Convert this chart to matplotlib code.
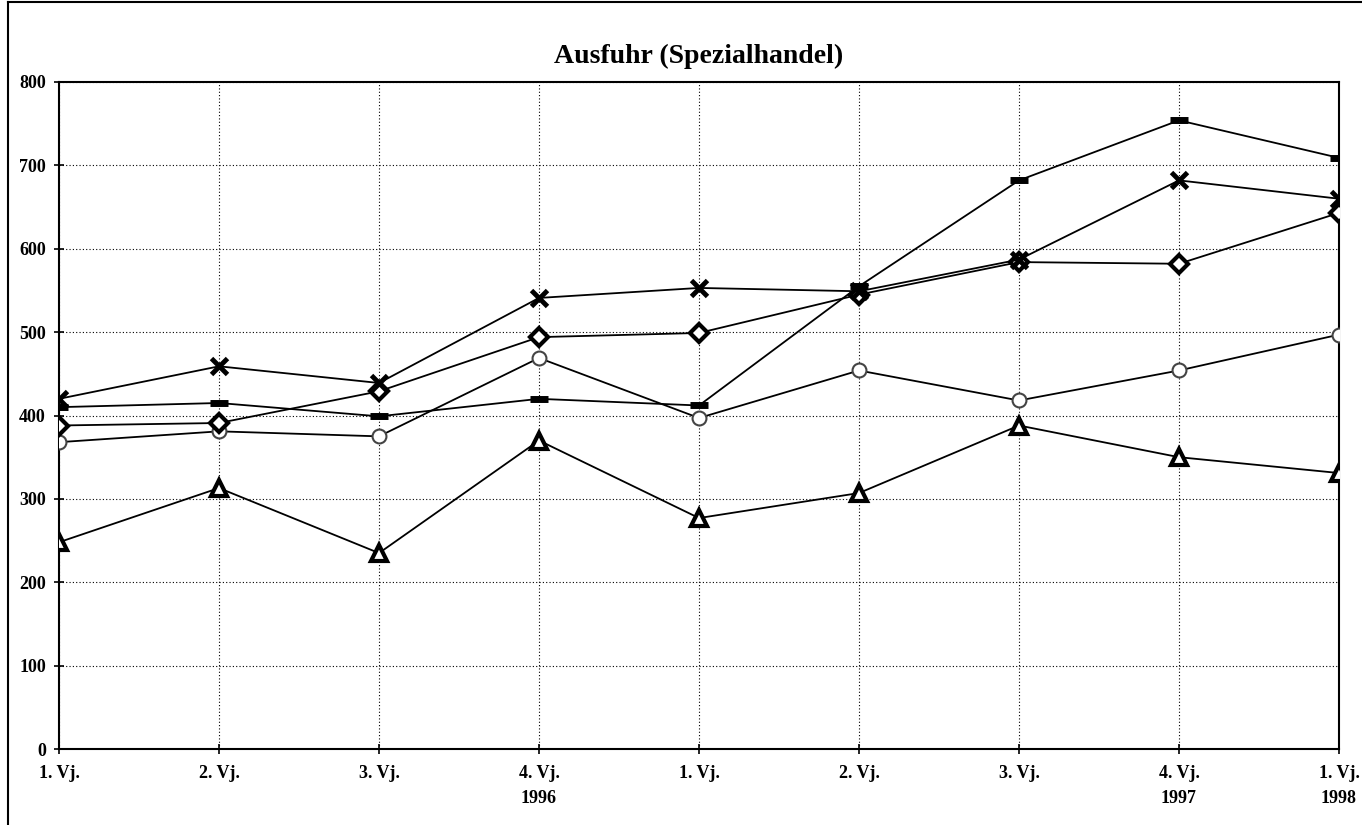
import matplotlib
matplotlib.use("Agg")
import matplotlib.pyplot as plt
from matplotlib.lines import Line2D

# quarters
quarters = ["1. Vj.", "2. Vj.", "3. Vj.", "4. Vj.\n1996", "1. Vj.", "2. Vj.",
            "3. Vj.", "4. Vj.\n1997", "1. Vj.\n1998"]

# series
s_cross = [420, 459, 439, 541, 553, 549, 587, 682, 660]
s_dash = [410, 415, 399, 420, 412, 555, 682, 754, 709]
s_diamond = [388, 391, 429, 494, 499, 545, 584, 582, 643]
s_circle = [368, 381, 375, 469, 397, 454, 418, 454, 497]
s_triangle = [248, 313, 235, 370, 277, 307, 388, 350, 331]

plt.rcParams['font.family'] = ['Liberation Serif', 'DejaVu Serif']

fig = plt.figure(figsize=(13.62, 8.25), dpi=100)
ax = fig.add_axes([59 / 1362, 1 - 749 / 825, (1339 - 59) / 1362, (749 - 82) / 825])

x = list(range(len(quarters)))

ax.plot(x, s_triangle, color='black', lw=1.3, marker='^', ms=11,
        mfc='white', mec='black', mew=3, zorder=3)
ax.plot(x, s_circle, color='black', lw=1.3, marker='o', ms=10,
        mfc='white', mec='#444444', mew=1.5, zorder=3)
ax.plot(x, s_dash, color='black', lw=1.3, marker='_', ms=13,
        mec='black', mew=5, zorder=4)
ax.plot(x, s_diamond, color='black', lw=1.3, marker='D', ms=9,
        mfc='white', mec='black', mew=3, zorder=4)
ax.plot(x, s_cross, color='black', lw=1.3, marker='x', ms=12,
        mec='black', mew=3.5, zorder=5)

ax.set_xlim(0, 8)
ax.set_ylim(0, 800)
ax.set_yticks(range(0, 801, 100))
ax.set_xticks(x)
ax.set_xticklabels(quarters, fontsize=13, fontweight='bold', linespacing=1.65)
for lbl in ax.get_yticklabels():
    lbl.set_fontsize(13)
    lbl.set_fontweight('bold')

ax.tick_params(axis='both', direction='inout', length=7, width=1.2, pad=6)
ax.tick_params(axis='x', pad=8)
ax.grid(True, color='black', linestyle=(0, (1, 2)), linewidth=0.8)
for sp in ax.spines.values():
    sp.set_linewidth(1.5)

ax.set_title("Ausfuhr (Spezialhandel)", fontsize=20, fontweight='bold', pad=14)

# outer frame
fig.add_artist(Line2D([8 / 1362, 8 / 1362], [0, 1 - 2 / 825], color='black', lw=1.5))
fig.add_artist(Line2D([8 / 1362, 1], [1 - 2 / 825, 1 - 2 / 825], color='black', lw=1.5))

fig.savefig("out.png", dpi=100)
